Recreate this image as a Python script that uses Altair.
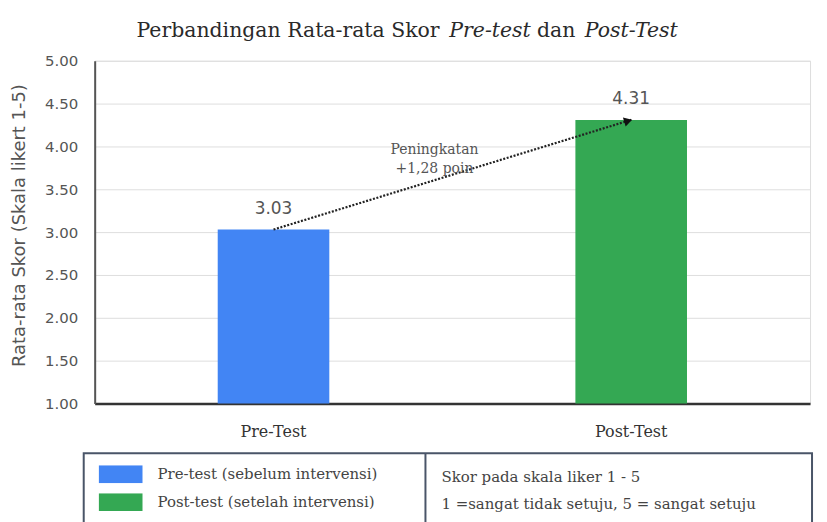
import altair as alt
import pandas as pd

# ---- data ----
categories = ["Pre-Test", "Post-Test"]
scores = [3.03, 4.31]
score_labels = ["3.03", "4.31"]
legend_labels = ["Pre-test (sebelum intervensi)", "Post-test (setelah intervensi)"]
bar_colors = ["#4285F4", "#34A853"]
y_ticks = [1.0, 1.5, 2.0, 2.5, 3.0, 3.5, 4.0, 4.5, 5.0]
title_parts = ["Perbandingan Rata-rata Skor", "Pre-test", "dan", "Post-Test"]
annotation_text = ["Peningkatan", "+1,28 poin"]
note_lines = ["Skor pada skala liker 1 - 5", "1 =sangat tidak setuju, 5 = sangat setuju"]
y_title = "Rata-rata Skor (Skala likert 1-5)"

df = pd.DataFrame({"cat": categories, "score": scores, "lab": score_labels, "leg": legend_labels})

SERIF = "DejaVu Serif"
SANS = "DejaVu Sans"
W, H = 718, 344

x_enc = alt.X("cat:N", sort=categories,
              scale=alt.Scale(paddingInner=0.688, paddingOuter=0.344),
              axis=alt.Axis(title=None, labelAngle=0, ticks=False, domainColor="#333",
                            domainWidth=2.5, labelFont=SERIF, labelFontSize=16,
                            labelColor="#333", labelPadding=20, grid=False))
x_plain = alt.X("cat:N", sort=categories)
y_scale = alt.Scale(domain=[1, 5], nice=False, zero=False)
y_enc = alt.Y("score:Q", scale=y_scale,
              axis=alt.Axis(values=y_ticks, format=".2f", ticks=False, grid=True,
                            gridColor="#dedede", gridWidth=1, domainColor="#555",
                            domainWidth=2, labelFont=SANS, labelFontSize=15,
                            labelColor="#555", labelPadding=17,
                            title=y_title, titleFont=SANS, titleFontSize=18,
                            titleFontWeight="normal", titleColor="#555",
                            titleAngle=270, titleX=-75, titleY=165,
                            titleAlign="center", titleBaseline="middle"))

base = alt.Chart(df)

bars = base.mark_bar().encode(
    x=x_enc,
    y=y_enc,
    y2=alt.datum(1),
    color=alt.Color("leg:N", sort=legend_labels,
                    scale=alt.Scale(domain=legend_labels, range=bar_colors),
                    legend=alt.Legend(title=None, orient="none", legendX=4, legendY=406,
                                      symbolType="M-1,-0.41H1V0.41H-1Z", symbolSize=1936,
                                      symbolStrokeWidth=0, symbolOpacity=1,
                                      clipHeight=18, rowPadding=10, labelOffset=15,
                                      labelFont=SERIF, labelFontSize=15, labelColor="#444",
                                      labelLimit=400, padding=0)),
)

values = base.mark_text(dy=-21, baseline="middle", font=SANS, fontSize=17, color="#555").encode(
    x=x_plain, y="score:Q", text="lab:N")

arrow_line = base.mark_line(strokeDash=[2, 1.6], strokeWidth=2.2, color="#222").encode(
    x=x_plain, y="score:Q")

arrow_head = base.transform_filter(alt.datum.cat == categories[1]).mark_point(
    shape="triangle-right", angle=343, size=90, filled=True, opacity=1, color="#111",
    xOffset=-3, yOffset=1).encode(x=x_plain, y="score:Q")

ann = alt.Chart(pd.DataFrame({"t": ["\n".join(annotation_text)]})).mark_text(
    lineBreak="\n", lineHeight=19, align="center", baseline="middle",
    font=SERIF, fontSize=14, color="#555").encode(
    x=alt.value(341), y=alt.value(90), text="t:N")

# title pieces (mixed roman / italic)
title_x = [42, 356, 444, 492]
title_italic = [False, True, False, True]
title_layers = []
for txt, xx, it in zip(title_parts, title_x, title_italic):
    title_layers.append(
        alt.Chart(pd.DataFrame({"t": [txt]})).mark_text(
            align="left", baseline="middle", font=SERIF, fontSize=20.5, color="#2a2a2a",
            fontStyle="italic" if it else "normal").encode(
            x=alt.value(xx), y=alt.value(-30), text="t:N"))

# legend box
box = alt.Chart(pd.DataFrame({"a": [0]})).mark_rect(
    fill="white", fillOpacity=0, stroke="#4a5568", strokeWidth=2).encode(
    x=alt.value(-11), x2=alt.value(720), y=alt.value(394), y2=alt.value(470))
divider = alt.Chart(pd.DataFrame({"a": [0]})).mark_rule(color="#4a5568", strokeWidth=2).encode(
    x=alt.value(332), y=alt.value(394), y2=alt.value(470))
note_layers = []
for txt, yy in zip(note_lines, [418, 445]):
    note_layers.append(
        alt.Chart(pd.DataFrame({"t": [txt]})).mark_text(
            align="left", baseline="middle", font=SERIF, fontSize=15, color="#444").encode(
            x=alt.value(348), y=alt.value(yy), text="t:N"))

chart = alt.layer(
    box, divider, bars, arrow_line, arrow_head, values, ann, *title_layers, *note_layers
).properties(
    width=W, height=H,
    autosize=alt.AutoSizeParams(type="none"),
    padding={"left": 87, "top": 52, "right": 9, "bottom": 120},
).configure_view(strokeWidth=0).configure(background="white")

chart.save("out.html", embed_options={"renderer": "svg", "actions": False})
